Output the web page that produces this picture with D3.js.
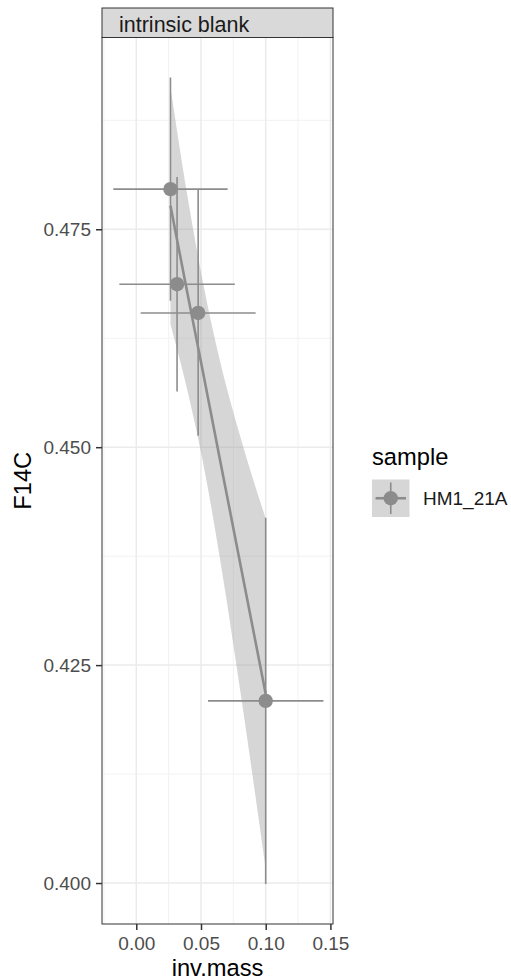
<!DOCTYPE html>
<html>
<head>
<meta charset="utf-8">
<script src="https://cdn.jsdelivr.net/npm/d3@7"></script>
<style>
  html, body { margin: 0; padding: 0; background: #fff; }
  svg { display: block; font-family: "Liberation Sans", Arial, sans-serif; }
</style>
</head>
<body>
<svg id="chart" width="511" height="980"></svg>
<script>
// ---- data ----
const panelTitle = "intrinsic blank";
const sampleName = "HM1_21A";
const invMass   = [0.0264, 0.0315, 0.0478, 0.1000];
const f14c      = [0.4796, 0.4687, 0.4654, 0.4209];
const f14cErr   = [0.0128, 0.0123, 0.0141, 0.0210];
const invMassErr= [0.0442, 0.0446, 0.0444, 0.0446];
// fitted line and confidence band
const fitX     = [0.0264, 0.0400, 0.0514, 0.0650, 0.0800, 0.1000];
const fitY     = [0.4777, 0.4673, 0.4587, 0.4483, 0.4369, 0.4217];
const fitLower = [0.4641, 0.4562, 0.4484, 0.4369, 0.4224, 0.4016];
const fitUpper = [0.4913, 0.4784, 0.4690, 0.4597, 0.4514, 0.4418];
const xTicks = [0.00, 0.05, 0.10, 0.15];
const xMinor = [-0.025, 0.025, 0.075, 0.125];
const yTicks = [0.400, 0.425, 0.450, 0.475];
const yMinor = [0.4125, 0.4375, 0.4625, 0.4875];

// ---- layout ----
const svg = d3.select("#chart");
const P = { left: 102, right: 333, top: 37.5, bottom: 924, stripTop: 8 };
const x = d3.scaleLinear().domain([-0.0265, 0.1520]).range([P.left, P.right]);
const y = d3.scaleLinear().domain([0.3953, 0.4970]).range([P.bottom, P.top]);
const col = "#8c8c8c";

// panel background
svg.append("rect").attr("x", P.left).attr("y", P.top)
  .attr("width", P.right - P.left).attr("height", P.bottom - P.top).attr("fill", "#fff");

const clip = svg.append("defs").append("clipPath").attr("id", "pc")
  .append("rect").attr("x", P.left).attr("y", P.top)
  .attr("width", P.right - P.left).attr("height", P.bottom - P.top);

const g = svg.append("g").attr("clip-path", "url(#pc)");

// grid
g.selectAll(".xm").data(xMinor).join("line")
  .attr("x1", d => x(d)).attr("x2", d => x(d)).attr("y1", P.top).attr("y2", P.bottom)
  .attr("stroke", "#f2f2f2").attr("stroke-width", 1);
g.selectAll(".ym").data(yMinor).join("line")
  .attr("y1", d => y(d)).attr("y2", d => y(d)).attr("x1", P.left).attr("x2", P.right)
  .attr("stroke", "#f2f2f2").attr("stroke-width", 1);
g.selectAll(".xM").data(xTicks).join("line")
  .attr("x1", d => x(d)).attr("x2", d => x(d)).attr("y1", P.top).attr("y2", P.bottom)
  .attr("stroke", "#ebebeb").attr("stroke-width", 1.5);
g.selectAll(".yM").data(yTicks).join("line")
  .attr("y1", d => y(d)).attr("y2", d => y(d)).attr("x1", P.left).attr("x2", P.right)
  .attr("stroke", "#ebebeb").attr("stroke-width", 1.5);

// ribbon
const band = fitX.map((d, i) => ({ x: d, lo: fitLower[i], hi: fitUpper[i], f: fitY[i] }));
g.append("path").datum(band)
  .attr("d", d3.area().x(d => x(d.x)).y0(d => y(d.lo)).y1(d => y(d.hi)).curve(d3.curveMonotoneX))
  .attr("fill", "#999").attr("fill-opacity", 0.4);

// error bars
const pts = invMass.map((d, i) => ({ x: d, y: f14c[i], ey: f14cErr[i], ex: invMassErr[i] }));
g.selectAll(".ev").data(pts).join("line")
  .attr("x1", d => x(d.x)).attr("x2", d => x(d.x))
  .attr("y1", d => y(d.y - d.ey)).attr("y2", d => y(d.y + d.ey))
  .attr("stroke", col).attr("stroke-width", 1.6);
g.selectAll(".eh").data(pts).join("line")
  .attr("x1", d => x(d.x - d.ex)).attr("x2", d => x(d.x + d.ex))
  .attr("y1", d => y(d.y)).attr("y2", d => y(d.y))
  .attr("stroke", col).attr("stroke-width", 1.6);

// fit line
g.append("path").datum(band)
  .attr("d", d3.line().x(d => x(d.x)).y(d => y(d.f)))
  .attr("fill", "none").attr("stroke", col).attr("stroke-width", 2.6);

// points
g.selectAll(".pt").data(pts).join("circle")
  .attr("cx", d => x(d.x)).attr("cy", d => y(d.y)).attr("r", 7.2).attr("fill", col);

// panel border
svg.append("rect").attr("x", P.left).attr("y", P.top)
  .attr("width", P.right - P.left).attr("height", P.bottom - P.top)
  .attr("fill", "none").attr("stroke", "#333").attr("stroke-width", 1);

// strip
svg.append("rect").attr("x", P.left).attr("y", P.stripTop)
  .attr("width", P.right - P.left).attr("height", P.top - P.stripTop)
  .attr("fill", "#d9d9d9").attr("stroke", "#333").attr("stroke-width", 1);
svg.append("text").attr("x", P.left + 17).attr("y", 31.5)
  .attr("font-size", 21.5).attr("fill", "#1a1a1a").text(panelTitle);

// axes
const xAxis = svg.append("g").attr("transform", `translate(0,${P.bottom})`)
  .call(d3.axisBottom(x).tickValues(xTicks).tickFormat(d3.format(".2f")).tickSizeOuter(0).tickSize(6).tickPadding(5));
const yAxis = svg.append("g").attr("transform", `translate(${P.left},0)`)
  .call(d3.axisLeft(y).tickValues(yTicks).tickFormat(d3.format(".3f")).tickSizeOuter(0).tickSize(6).tickPadding(5));
[xAxis, yAxis].forEach(a => {
  a.select(".domain").remove();
  a.selectAll(".tick line").attr("stroke", "#333").attr("stroke-width", 1.5);
  a.selectAll(".tick text").attr("fill", "#4d4d4d").attr("font-size", 19)
    .attr("font-family", "'Liberation Sans', Arial, sans-serif");
});
xAxis.selectAll(".tick text").attr("dy", null).attr("y", 26);
yAxis.selectAll(".tick text").attr("dy", "0.35em");

// axis titles
svg.append("text").attr("x", (P.left + P.right) / 2).attr("y", 976)
  .attr("text-anchor", "middle").attr("font-size", 23.7).attr("fill", "#000").text("inv.mass");
svg.append("text").attr("transform", `translate(31,${(P.top + P.bottom) / 2}) rotate(-90)`)
  .attr("text-anchor", "middle").attr("font-size", 23.7).attr("fill", "#000").text("F14C");

// legend
const L = { x: 372, y: 479.5, s: 37.5 };
svg.append("text").attr("x", L.x).attr("y", 465).attr("font-size", 23.7).attr("fill", "#000").text("sample");
const key = svg.append("g");
key.append("rect").attr("x", L.x).attr("y", L.y).attr("width", L.s).attr("height", L.s)
  .attr("fill", "#999").attr("fill-opacity", 0.4);
const cx = L.x + L.s / 2, cy = L.y + L.s / 2;
key.append("line").attr("x1", L.x + 3.5).attr("x2", L.x + L.s - 3.5).attr("y1", cy).attr("y2", cy)
  .attr("stroke", col).attr("stroke-width", 2.6);
key.append("line").attr("x1", cx).attr("x2", cx).attr("y1", L.y + 3).attr("y2", L.y + L.s - 3)
  .attr("stroke", col).attr("stroke-width", 1.6);
key.append("circle").attr("cx", cx).attr("cy", cy).attr("r", 7.2).attr("fill", col);
svg.append("text").attr("x", 423).attr("y", cy).attr("dy", "0.35em")
  .attr("font-size", 19).attr("fill", "#1a1a1a").text(sampleName);
</script>
</body>
</html>
